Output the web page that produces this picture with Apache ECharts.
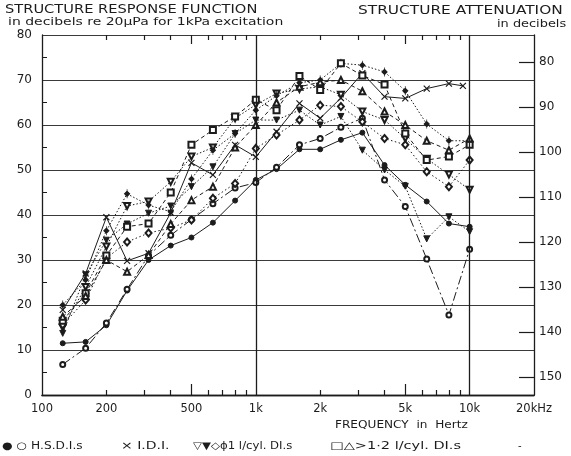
<!DOCTYPE html>
<html>
<head>
<meta charset="utf-8">
<script src="https://cdn.jsdelivr.net/npm/echarts@6/dist/echarts.min.js"></script>
<style>
  html, body { margin: 0; padding: 0; background: #fff; }
  #chart { width: 571px; height: 456px; }
</style>
</head>
<body>
<div id="chart"></div>
<script>
// One-third-octave band centres (Hz)
const freqHz = [125, 160, 200, 250, 315, 400, 500, 630, 800, 1000, 1250, 1600, 2000, 2500, 3150, 4000, 5000, 6300, 8000, 10000];

// H.S.D.I. engines
const hsdiFilled = [11.5, 11.8, 15.5, 23.2, 30.0, 33.2, 35.0, 38.3, 43.2, 47.8, 50.2, 54.6, 54.6, 56.7, 58.3, 51.1, 46.7, 43.0, 38.1, 37.4];
const hsdiOpen   = [6.8, 10.4, 16.0, 23.5, 31.0, 35.5, 39.0, 42.5, 46.0, 47.2, 50.6, 55.6, 57.0, 59.5, 61.5, 47.8, 41.9, 30.2, 17.8, 32.4];

// I.D.I. engine (own band list, last reading near 9 kHz)
const idiFreqHz = [125, 160, 200, 250, 315, 400, 500, 630, 800, 1000, 1250, 1600, 2000, 2500, 3150, 4000, 5000, 6300, 8000, 9300];
const idiValues = [18.9, 27.0, 39.5, 29.8, 31.5, 40.5, 51.6, 48.9, 55.6, 52.9, 58.5, 64.8, 61.5, 66.0, 71.5, 66.3, 65.9, 68.1, 69.2, 68.7];

// 1 l/cyl D.I. engines
const diOneOpenTri   = [15.0, 24.0, 33.0, 42.0, 43.0, 47.4, 53.0, 55.0, 61.5, 64.5, 67.0, 68.0, 68.5, 66.7, 63.0, 61.1, 57.0, 52.5, 49.0, 45.6];
const diOneFilledTri = [13.7, 26.7, 34.4, 38.0, 40.4, 42.0, 46.3, 50.7, 58.1, 61.1, 61.1, 63.3, 60.0, 61.9, 54.4, 50.0, 46.4, 34.7, 39.6, 36.3];
const diOneDiamond   = [15.6, 21.1, 30.4, 34.0, 36.0, 37.1, 38.9, 43.7, 47.0, 54.8, 57.8, 61.1, 64.4, 64.1, 60.7, 57.0, 55.6, 49.6, 46.3, 52.2];
const diOnePhi       = [20.0, 25.6, 36.5, 44.7, 42.2, 40.7, 48.0, 54.4, 58.1, 63.3, 66.5, 69.4, 70.0, 73.7, 73.3, 71.8, 67.6, 60.2, 56.5, 56.5];

// >1.2 l/cyl D.I. engines
const diBigSquare   = [16.5, 22.6, 31.0, 37.4, 38.1, 45.0, 55.6, 58.9, 61.9, 65.6, 63.3, 70.9, 67.8, 73.7, 71.0, 69.0, 58.1, 52.2, 53.0, 55.6];
const diBigTriangle = [17.4, 22.0, 30.0, 27.4, 31.1, 38.0, 43.3, 46.3, 55.0, 60.0, 65.0, 68.5, 69.5, 70.0, 67.5, 63.0, 60.0, 56.5, 54.4, 57.0];

// Axis ticks and labels
const responseTicks = [0, 10, 20, 30, 40, 50, 60, 70, 80];
const responseHalfTicks = [5, 15, 25, 35, 45, 55, 65, 75];
const attenuationTicks = [80, 90, 100, 110, 120, 130, 140, 150];
const freqLabelValues = [100, 200, 500, 1000, 2000, 5000, 10000, 20000];
const freqLabelText = ['100', '200', '500', '1k', '2k', '5k', '10k', '20kHz'];
const minorFreqTicks = [200, 300, 400, 600, 700, 800, 900, 2000, 3000, 4000, 6000, 7000, 8000, 9000];
const longFreqTicks = [500, 5000];
const dividerFreqs = [1000, 10000];

const INK = '#1c1c1c';
const FONT = 'DejaVu Sans';
const F_MIN = 100, F_MAX = 20000;

const pairs = (xs, ys) => xs.map((x, i) => [x, ys[i]]);

function curve(name, xs, ys, symbol, lineType, extra) {
  return Object.assign({
    name: name,
    type: 'line',
    data: pairs(xs, ys),
    symbol: symbol,
    symbolSize: 5,
    showAllSymbol: true,
    lineStyle: { color: INK, width: 1, type: lineType },
    itemStyle: { color: INK, borderColor: INK, borderWidth: 1 },
    emphasis: { disabled: true },
    silent: true,
    animation: false
  }, extra || {});
}

const labelFor = v => {
  const i = freqLabelValues.findIndex(f => Math.abs(f - v) / f < 1e-6);
  return i >= 0 ? freqLabelText[i] : '';
};

// Tick-only companion axes laid out on log10(frequency), same span as the data axis
function tickAxis(position, ticks, tickLen) {
  return {
    type: 'value', min: Math.log10(F_MIN), max: Math.log10(F_MAX), position: position,
    axisLine: { show: false },
    axisTick: { show: true, inside: true, length: tickLen, customValues: ticks.map(Math.log10), lineStyle: { color: INK, width: 1.2 } },
    axisLabel: { show: false },
    splitLine: { show: false }
  };
}

const chart = echarts.init(document.getElementById('chart'), null, { renderer: 'canvas' });

const textStyle = (size) => ({ fill: INK, font: size + 'px "' + FONT + '"' });
const label = (text, x, y, size, scaleX) =>
  ({ type: 'text', x: x, y: y, scaleX: scaleX, style: Object.assign({ text: text }, textStyle(size)) });

chart.setOption({
  animation: false,
  backgroundColor: '#fff',
  grid: { left: 42, right: 37, top: 35, bottom: 61, containLabel: false },
  xAxis: [
    {
      type: 'log', logBase: 10, min: F_MIN, max: F_MAX, position: 'bottom',
      axisLine: { show: true, lineStyle: { color: INK, width: 1.3 } },
      axisTick: { show: false },
      axisLabel: { show: true, customValues: freqLabelValues, formatter: labelFor, color: INK, fontFamily: FONT, fontSize: 11.5, margin: 8 },
      splitLine: { show: false },
      minorTick: { show: false }
    },
    {
      type: 'log', logBase: 10, min: F_MIN, max: F_MAX, position: 'top',
      axisLine: { show: true, lineStyle: { color: INK, width: 1.3 } },
      axisTick: { show: false }, axisLabel: { show: false }, splitLine: { show: false }
    },
    tickAxis('bottom', minorFreqTicks, 5),
    tickAxis('top', minorFreqTicks, 5),
    tickAxis('bottom', longFreqTicks, 11),
    tickAxis('top', longFreqTicks, 9)
  ],
  yAxis: [
    {
      type: 'value', min: 0, max: 80, interval: 10, position: 'left',
      axisLine: { show: true, lineStyle: { color: INK, width: 1.3 } },
      axisTick: { show: false },
      axisLabel: { color: INK, fontFamily: FONT, fontSize: 12, margin: 10, customValues: responseTicks },
      splitLine: { show: true, lineStyle: { color: '#3a3a3a', width: 1.2 } }
    },
    {
      type: 'value', min: 74, max: 154, inverse: true, position: 'right',
      axisLine: { show: true, lineStyle: { color: INK, width: 1.3 } },
      axisTick: { show: true, inside: true, length: 15, customValues: attenuationTicks, lineStyle: { color: INK, width: 1.2 } },
      axisLabel: { color: INK, fontFamily: FONT, fontSize: 12, margin: 5, customValues: attenuationTicks },
      splitLine: { show: false }
    },
    {
      type: 'value', min: 0, max: 80, position: 'left',
      axisLine: { show: false },
      axisTick: { show: true, inside: true, length: 5, customValues: responseHalfTicks, lineStyle: { color: INK, width: 1 } },
      axisLabel: { show: false },
      splitLine: { show: false }
    }
  ],
  series: [
    curve('H.S.D.I. (filled)', freqHz, hsdiFilled, 'circle', 'solid', {
      markLine: {
        silent: true, symbol: 'none', label: { show: false },
        lineStyle: { color: INK, type: 'solid', width: 1.3 },
        data: dividerFreqs.map(f => ({ xAxis: f }))
      }
    }),
    curve('H.S.D.I. (open)', freqHz, hsdiOpen, 'emptyCircle', [9, 3, 2, 3]),
    curve('I.D.I.', idiFreqHz, idiValues, 'path://M0,0L10,10M10,0L0,10', 'solid', {
      symbolSize: 6,
      itemStyle: { color: INK, borderColor: INK, borderWidth: 1.2 }
    }),
    curve('1 l/cyl D.I. (open)', freqHz, diOneOpenTri, 'emptyTriangle', [1.5, 2], { symbolRotate: 180, symbolSize: 6 }),
    curve('1 l/cyl D.I. (filled)', freqHz, diOneFilledTri, 'triangle', [1.5, 2], { symbolRotate: 180, symbolSize: 6 }),
    curve('1 l/cyl D.I. (diamond)', freqHz, diOneDiamond, 'emptyDiamond', [1.5, 2.5], { symbolSize: [6, 7] }),
    curve('1 l/cyl D.I. (phi)', freqHz, diOnePhi, 'path://M5,0L5,14M5,3L8,7L5,11L2,7Z', [1.5, 2], { symbolSize: [5, 9] }),
    curve('>1.2 l/cyl D.I. (square)', freqHz, diBigSquare, 'emptyRect', [4, 3], { symbolSize: 6 }),
    curve('>1.2 l/cyl D.I. (triangle)', freqHz, diBigTriangle, 'emptyTriangle', [4, 3], { symbolSize: 6 })
  ],
  graphic: [
    label('STRUCTURE RESPONSE FUNCTION', 5, 4, 12, 1.22),
    label('in decibels re 20μPa for 1kPa excitation', 8, 17, 10.5, 1.33),
    label('STRUCTURE ATTENUATION', 358, 5, 12, 1.28),
    label('in decibels', 497, 19, 10.5, 1.23),
    label('FREQUENCY  in  Hertz', 335, 420, 11, 1.1),
    label('● ○ H.S.D.I.s', 2, 441, 10, 1.22),
    label('× I.D.I.', 121, 441, 10, 1.4),
    label('▽▼◇ϕ1 l/cyl. DI.s', 193, 441, 10, 1.17),
    label('□△>1·2 l/cyl. DI.s', 330, 441, 10, 1.45),
    label('-', 518, 441, 10, 1)
  ]
});
</script>
</body>
</html>
